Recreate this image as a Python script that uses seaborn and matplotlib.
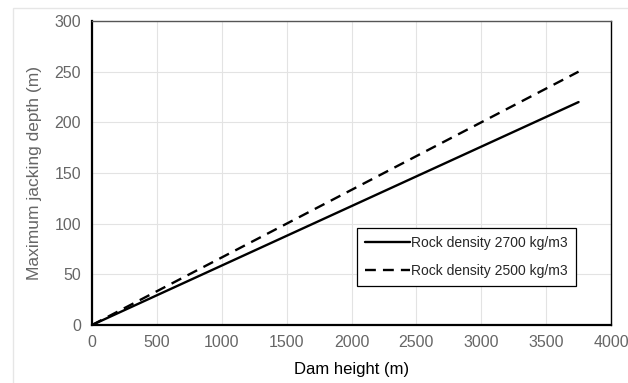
import numpy as np
import pandas as pd
import matplotlib
matplotlib.use("Agg")
import matplotlib.pyplot as plt
import seaborn as sns
from matplotlib.patches import Rectangle

# data
dam_height = [0, 3750]
depth_2700 = [0, 220]
depth_2500 = [0, 250]
series_labels = ["Rock density 2700 kg/m3", "Rock density 2500 kg/m3"]

sns.set_theme(style="whitegrid")
plt.rcParams['font.family'] = ['Liberation Sans', 'DejaVu Sans']

df = pd.DataFrame({
    "Dam height (m)": dam_height * 2,
    "depth": depth_2700 + depth_2500,
    "series": [series_labels[0]] * 2 + [series_labels[1]] * 2,
})

fig = plt.figure(figsize=(6.28, 3.83), dpi=100)
ax = fig.add_axes([92 / 628, 1 - 325 / 383, (611 - 92) / 628, (325 - 21) / 383])

# light outer frame
fig.patches.append(Rectangle((13 / 628, -0.01), 1.0, 1 - 8 / 383 + 0.01,
                             transform=fig.transFigure, fill=False,
                             edgecolor="#e6e6e6", lw=1))

sns.lineplot(data=df, x="Dam height (m)", y="depth", hue="series", style="series",
             palette=["black", "black"], dashes=[(None, None), (4.6, 3)],
             linewidth=1.7, ax=ax, legend=False)
ax.lines[0].set_linestyle("-")
ax.lines[1].set_dashes((4.6, 3))

ax.set_xlim(0, 4000)
ax.set_ylim(0, 300)
ax.set_xticks(np.arange(0, 4001, 500))
ax.set_yticks(np.arange(0, 301, 50))
ax.grid(True, color="#e3e3e3", lw=0.8)
ax.tick_params(axis="both", colors="#666666", labelsize=11.5, length=0, pad=4)
ax.tick_params(axis="y", length=4, width=0.8, color="#333333", direction="out")
ax.tick_params(axis="x", pad=7)

for side in ["left", "bottom", "right"]:
    ax.spines[side].set_color("black")
    ax.spines[side].set_linewidth(1.6)
ax.spines["right"].set_linewidth(1.0)
ax.spines["top"].set_color("#555555")
ax.spines["top"].set_linewidth(1.0)

ax.set_xlabel("Dam height (m)", fontsize=12, color="black", labelpad=9)
ax.set_ylabel("Maximum jacking depth (m)", fontsize=12.5, color="#666666", labelpad=9)

leg = ax.legend(ax.lines[:2], series_labels, loc="lower right",
                bbox_to_anchor=(0.933, 0.128), fontsize=10, frameon=True,
                fancybox=False, edgecolor="black", framealpha=1,
                handlelength=3.2, handletextpad=0.1, borderpad=0.6,
                labelspacing=1.0, borderaxespad=0)
leg.get_frame().set_linewidth(0.9)

fig.savefig("out.png", dpi=100)
